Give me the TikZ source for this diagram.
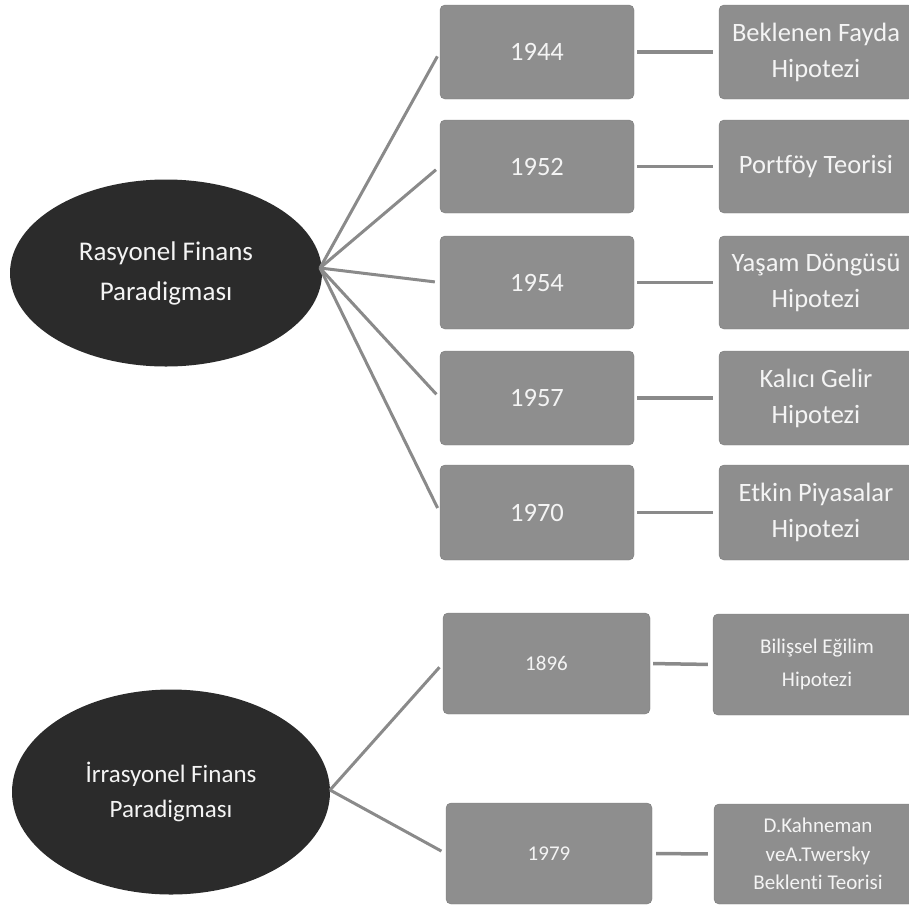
\documentclass[tikz,border=0pt]{standalone}
\usepackage{fontspec}
\setmainfont{Carlito}[Ligatures=NoCommon]
\usetikzlibrary{shapes.geometric}
\definecolor{boxgray}{HTML}{8E8E8E}
\definecolor{boxedge}{HTML}{7C7C7C}
\definecolor{ovaldark}{HTML}{2B2B2B}
\definecolor{linegray}{HTML}{8A8A8A}
\definecolor{txt}{HTML}{F4F4F4}
\tikzset{
  yearbox/.style={draw=boxedge, fill=boxgray, rounded corners=5pt, inner sep=0pt,
    text=txt, align=center, font=\fontsize{26.5}{36}\selectfont},
  theorybox/.style={yearbox},
  smallbox/.style={yearbox, font=\fontsize{21}{33}\selectfont},
  oval/.style={ellipse, fill=ovaldark, inner sep=0pt, text=txt, align=center},
  conn/.style={draw=linegray, line width=3.5pt},
  fan/.style={draw=linegray, line width=3pt, shorten >=5pt}
}
\begin{document}
\begin{tikzpicture}[x=1pt,y=-1pt]
\useasboundingbox (0,0) rectangle (909,908);
\begin{scope}
\clip (0,0) rectangle (909,908);
% top ellipse
\node[oval, minimum width=312pt, minimum height=187pt, font=\fontsize{27}{40}\selectfont] (rf) at (166,273) {Rasyonel Finans\\Paradigması};
\coordinate (rfx) at (320,268);
% top rows
\node[yearbox, minimum width=194pt, minimum height=94pt] (y1) at (537,52) {1944};
\node[yearbox, minimum width=194pt, minimum height=93pt] (y2) at (537,166.5) {1952};
\node[yearbox, minimum width=194pt, minimum height=93pt] (y3) at (537,282.5) {1954};
\node[yearbox, minimum width=194pt, minimum height=94pt] (y4) at (537,398) {1957};
\node[yearbox, minimum width=194pt, minimum height=95pt] (y5) at (537,512.5) {1970};
\node[theorybox, minimum width=194pt, minimum height=94pt] (t1) at (816,52) {Beklenen Fayda\\Hipotezi};
\node[theorybox, minimum width=194pt, minimum height=93pt] (t2) at (816,166.5) {Portföy Teorisi};
\node[theorybox, minimum width=194pt, minimum height=93pt] (t3) at (816,282.5) {Yaşam Döngüsü\\Hipotezi};
\node[theorybox, minimum width=194pt, minimum height=94pt] (t4) at (816,398) {Kalıcı Gelir\\Hipotezi};
\node[theorybox, minimum width=194pt, minimum height=95pt] (t5) at (816,512.5) {Etkin Piyasalar\\Hipotezi};
\foreach \i in {1,...,5}{
  \draw[conn, shorten <=3pt, shorten >=6pt] (y\i.east) -- (t\i.west);
  \draw[fan] (rfx) -- (y\i.west);
}
% bottom ellipse
\node[oval, minimum width=318pt, minimum height=205pt, font=\fontsize{25}{35}\selectfont] (ir) at (171,792) {İrrasyonel Finans\\Paradigması};
\coordinate (irx) at (330,790);
\node[smallbox, minimum width=207pt, minimum height=101pt] (b1) at (546.5,663.5) {1896};
\node[smallbox, minimum width=206pt, minimum height=101pt] (b2) at (549,853.5) {1979};
\node[smallbox, minimum width=208pt, minimum height=101pt] (c1) at (817,664.5) {Bilişsel Eğilim\\Hipotezi};
\node[smallbox, minimum width=208pt, minimum height=100pt, font=\fontsize{21}{28.5}\selectfont] (c2) at (818,854) {D.Kahneman\\veA.Twersky\\Beklenti Teorisi};
\draw[conn, shorten <=3pt, shorten >=5pt] (b1.east) -- (c1.west);
\draw[conn, shorten <=4pt, shorten >=6pt] (b2.east) -- (c2.west);
\draw[fan] (irx) -- (b1.west);
\draw[fan] (irx) -- (b2.west);
\end{scope}
\end{tikzpicture}
\end{document}
